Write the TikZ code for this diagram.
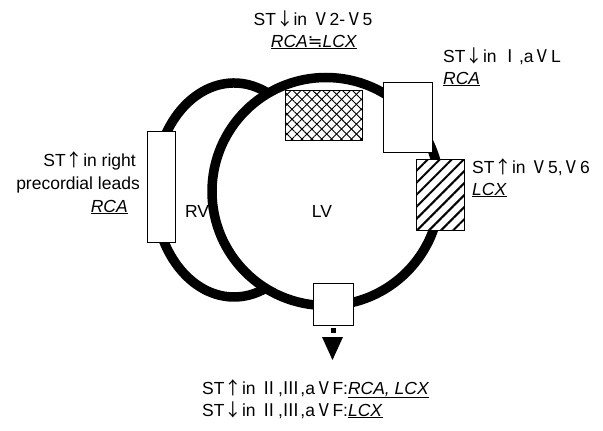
\documentclass[tikz,border=0pt]{standalone}
\usepackage{fontspec}
\setmainfont{Liberation Sans}[ItalicFont={Liberation Sans Italic}]
\newfontfamily\jpfont{Noto Sans CJK JP}
\newfontfamily\mathsym{DejaVu Sans}
\usetikzlibrary{patterns.meta}
\newcommand{\sym}[1]{{\jpfont #1}}
\newcommand{\art}[1]{\underline{\textit{#1}}}
\tikzset{
  wall/.style={line width=9.5pt},
  segbox/.style={draw,line width=0.8pt,fill=white,inner sep=0pt},
  crossbox/.style={segbox,
    postaction={pattern={Lines[angle=45,distance=7pt,line width=0.9pt]}},
    postaction={pattern={Lines[angle=-45,distance=7pt,line width=0.9pt]}}},
  hatchbox/.style={segbox,
    postaction={pattern={Lines[angle=45,distance=8.5pt,line width=2pt]}}},
  txt/.style={font=\fontsize{17.5}{21}\selectfont,inner sep=0pt},
}
\begin{document}
\begin{tikzpicture}[x=1pt,y=-1pt]
  \useasboundingbox (0,0) rectangle (603,431);
  % ventricles
  \node[txt] (rvlbl) at (197,211) {RV};
  \node[txt] (lvlbl) at (322,211) {LV};
  \draw[wall] (234,190) ++(-65:80 and 107) arc[start angle=-65,end angle=-293,x radius=80,y radius=107];
  \draw[wall] (326,191.5) circle[radius=114];
  % wall segments
  \node[segbox,minimum width=28pt,minimum height=111pt] (rvwall) at (161,186.5) {};
  \node[crossbox,minimum width=77pt,minimum height=50pt] (antwall) at (323.5,115) {};
  \node[segbox,minimum width=49pt,minimum height=70pt] (latwall) at (407.5,117) {};
  \node[hatchbox,minimum width=48pt,minimum height=71pt] (postwall) at (440,194.5) {};
  \node[segbox,minimum width=40pt,minimum height=42pt] (infwall) at (333,304) {};
  \fill (330.5,328) rectangle (335.5,333);
  \fill (322,337) -- (343,337) -- (332.5,360) -- cycle;
  % ST changes
  \node[txt,anchor=base] (ant1) at (313,25) {ST\sym{↓}in \sym{Ⅴ}2-\sym{Ⅴ}5};
  \node[txt,anchor=base] (ant2) at (314,47) {\underline{\textit{RCA}{\mathsym ≒}\textit{LCX}}};
  \node[txt,anchor=base west] (lat1) at (443,62) {ST\sym{↓}in \sym{Ⅰ},a\sym{Ⅴ}L};
  \node[txt,anchor=base west] (lat2) at (443,84) {\art{RCA}};
  \node[txt,anchor=base west] (post1) at (472,173) {ST\sym{↑}in \sym{Ⅴ}5,\sym{Ⅴ}6};
  \node[txt,anchor=base west] (post2) at (472,195) {\art{LCX}};
  \node[txt,anchor=base east] (rv1) at (136,166) {ST\sym{↑}in right};
  \node[txt,anchor=base east] (rv2) at (140,189) {precordial leads};
  \node[txt,anchor=base east] (rv3) at (128,212) {\art{RCA}};
  \node[txt,anchor=base west] (inf1) at (202,394) {ST\sym{↑}in \sym{Ⅱ},\sym{Ⅲ},a\sym{Ⅴ}F:\art{RCA, LCX}};
  \node[txt,anchor=base west] (inf2) at (202,416) {ST\sym{↓}in \sym{Ⅱ},\sym{Ⅲ},a\sym{Ⅴ}F:\art{LCX}};
\end{tikzpicture}
\end{document}
